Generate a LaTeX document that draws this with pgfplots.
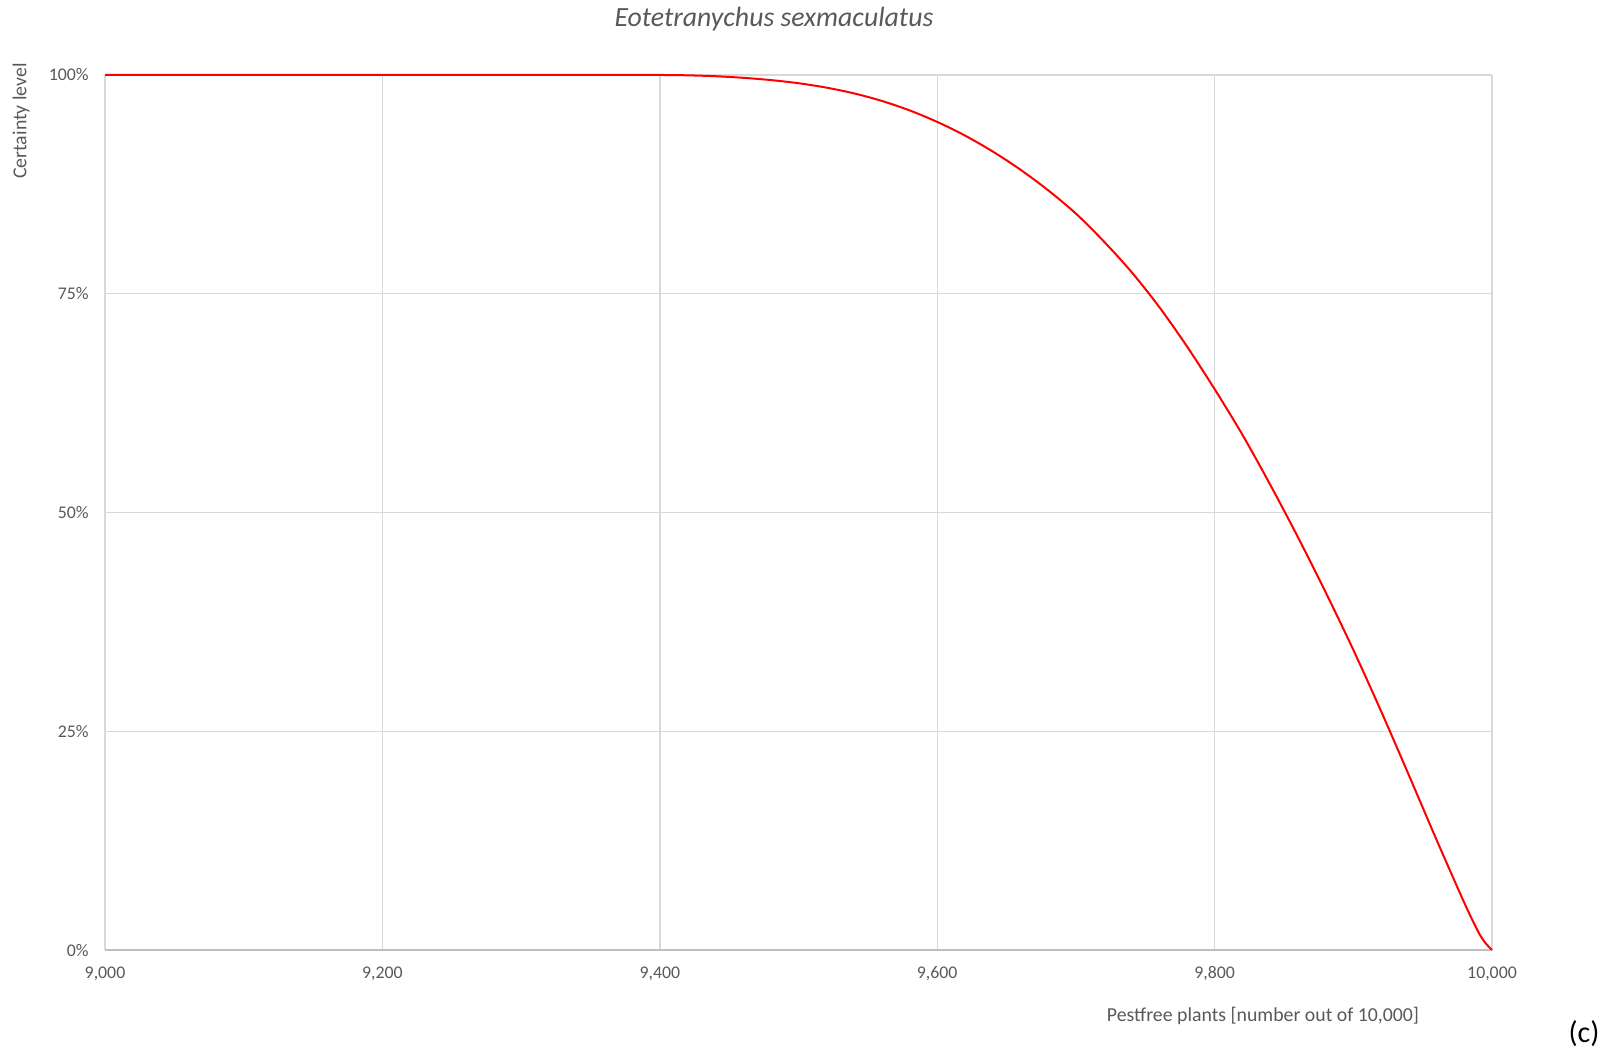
\documentclass[border=0pt]{standalone}
\usepackage{pgfplots}
\pgfplotsset{compat=1.18}
\usepackage{fontspec}
\setmainfont{Carlito}
\definecolor{txt}{HTML}{595959}
\definecolor{gridc}{HTML}{D9D9D9}
\definecolor{axc}{HTML}{BFBFBF}
\pgfplotstableread{
x y
9000 100
9100 100
9200 100
9300 100
9400 100
9420 99.96
9440 99.86
9460 99.68
9480 99.42
9500 99.06
9520 98.56
9540 97.90
9560 97.04
9580 95.96
9600 94.64
9620 93.08
9640 91.26
9660 89.18
9680 86.82
9700 84.16
9720 81.0
9740 77.5
9760 73.5
9780 69.0
9800 64.1
9820 58.9
9840 53.2
9860 47.2
9880 40.9
9900 34.3
9920 27.3
9940 20.0
9960 12.6
9980 5.4
9990 2.1
9995 0.85
10000 0
}\certainty
\begin{document}
\begin{tikzpicture}
\path[use as bounding box] (0,0) rectangle (805pt,525pt);
\begin{axis}[
  at={(52.5pt,50pt)}, anchor=south west,
  scale only axis, width=693.5pt, height=437.5pt,
  xmin=9000, xmax=10000, ymin=0, ymax=100,
  scaled x ticks=false, scaled y ticks=false,
  xtick={9000,9200,9400,9600,9800,10000},
  xticklabels={9{,}000,9{,}200,9{,}400,9{,}600,9{,}800,10{,}000},
  ytick={0,25,50,75,100},
  yticklabels={0\%,25\%,50\%,75\%,100\%},
  major tick length=0pt,
  grid=major,
  major grid style={draw=gridc, line width=0.7pt},
  axis line style={draw=none},
  tick label style={font=\fontsize{8.9}{10}\selectfont, text=txt},
  xticklabel style={anchor=base, yshift=-14pt},
  yticklabel style={anchor=east, inner sep=0pt, xshift=-8pt},
  clip=false,
]
\draw[axc, line width=0.7pt] (axis cs:9000,0) -- (axis cs:10000,0);
\addplot[red, line width=1pt, smooth] table {\certainty};
\end{axis}
\node[font=\fontsize{13.9}{16}\itshape, text=txt] at (387pt,515.5pt) {Eotetranychus sexmaculatus};
\node[font=\fontsize{9.9}{12}\selectfont, text=txt] at (631.5pt,17pt) {Pestfree plants [number out of 10,000]};
\node[font=\fontsize{9.9}{12}\selectfont, text=txt, rotate=90] at (10.5pt,464.5pt) {Certainty level};
\node[font=\fontsize{15}{18}\selectfont, text=black] at (792pt,8pt) {(c)};
\end{tikzpicture}
\end{document}
